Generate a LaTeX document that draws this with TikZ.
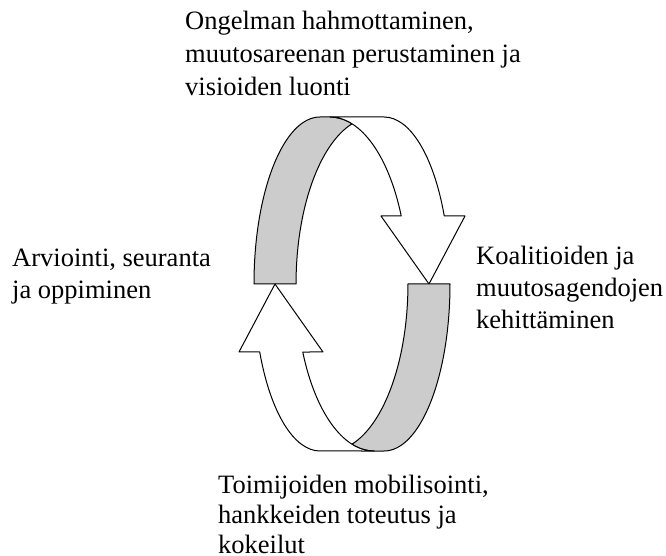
\documentclass[tikz,border=0pt]{standalone}
\usepackage{fontspec}
\setmainfont{Liberation Serif}
\definecolor{bandgray}{RGB}{204,204,204}

% One half of the twisted ribbon: the grey inner face on the left and the
% white outer face ending in an arrowhead on the right.
\newcommand\cyclehalf{%
  \path[backface] (-98,0)
    arc[start angle=180, end angle=90, x radius=66, y radius=167]
    -- (-22,167)
    arc[start angle=90, end angle=73.6, x radius=78, y radius=167]
    arc[start angle=106.4, end angle=180, x radius=78, y radius=167]
    -- cycle;
  \path[frontface] (-22,167)
    arc[start angle=90, end angle=24.03, x radius=78, y radius=167]
    -- (29,68) -- (77,0) -- (113,68) -- (92.28,68)
    arc[start angle=24.03, end angle=90, x radius=66, y radius=167]
    -- cycle;
}

\begin{document}
\begin{tikzpicture}[x=1pt, y=1pt,
  band/.style={draw=black, line width=1pt, line join=round},
  backface/.style={band, fill=bandgray},
  frontface/.style={band, fill=white},
  % anchored at the baseline of the last line
  caption/.style={inner sep=0pt, align=left, anchor=base west,
    font=\fontsize{26.5}{#1}\selectfont},
  caption/.default=32]
  \useasboundingbox (-352,-272) rectangle (314,284);

  % ribbon: upper half, then the same half turned half a turn
  \cyclehalf
  \begin{scope}[rotate=180]
    \cyclehalf
  \end{scope}

  % stage labels
  \node[caption=33] (problem) at (-167,188)
    {Ongelman hahmottaminen,\\muutosareenan perustaminen ja\\visioiden luonti};
  \node[caption=32] (coalition) at (124,-45)
    {Koalitioiden ja\\muutosagendojen\\kehittäminen};
  \node[caption=30] (action) at (-134,-269.5)
    {Toimijoiden mobilisointi,\\hankkeiden toteutus ja\\kokeilut};
  \node[caption=31.6] (evaluation) at (-340,-14.3)
    {Arviointi, seuranta\\ja oppiminen};
\end{tikzpicture}
\end{document}
